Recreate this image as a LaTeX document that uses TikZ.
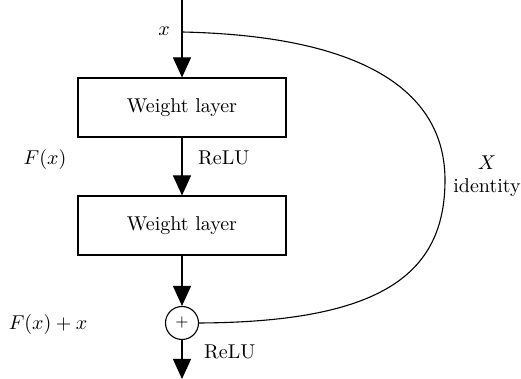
\documentclass[tikz,border=0pt]{standalone}
\usetikzlibrary{arrows.meta}
\begin{document}
\begin{tikzpicture}[x=0.5pt,y=-0.5pt,
  line width=0.55pt,
  conn/.style={-{Triangle[width=9pt,length=10pt]}},
  layer/.style={draw, minimum width=104pt, minimum height=29.5pt, inner sep=0pt, font=\normalsize},
  sumnode/.style={draw, circle, minimum size=16.5pt, inner sep=0pt},
  lbl/.style={font=\normalsize}]
\useasboundingbox (0,0) rectangle (521,379);
\coordinate (top) at (182,0);
\coordinate (split) at (182,32);
\node[layer] (w1) at (182,107.5) {Weight layer};
\node[layer] (w2) at (182,225.5) {Weight layer};
\node[sumnode] (sum) at (182,323) {\footnotesize $+$};
\coordinate (bot) at (182,379);
\draw[conn] (top) -- (w1.north);
\draw[conn] (w1.south) -- (w2.north);
\draw[conn] (w2.south) -- (sum.north);
\draw[conn] (sum.south) -- (bot);
\draw (split) .. controls (370,36) and (445,95) .. (445,180)
      .. controls (445,275) and (380,322) .. (sum.east);
\node[lbl] (xl) at (164,31) {$x$};
\node[lbl, anchor=west] (r1) at (191,158) {ReLU};
\node[lbl, anchor=west] (r2) at (197,352) {ReLU};
\node[lbl] (fx) at (45,160) {$F(x)$};
\node[lbl] (fxx) at (48,325) {$F(x)+x$};
\node[lbl] (X) at (487,163) {$X$};
\node[lbl] (id) at (487,188) {identity};
\end{tikzpicture}
\end{document}
